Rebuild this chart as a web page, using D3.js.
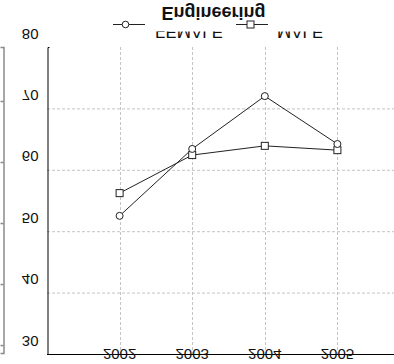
<!DOCTYPE html>
<html>
<head>
<meta charset="utf-8">
<script src="https://cdn.jsdelivr.net/npm/d3@7"></script>
<style>
  html, body { margin: 0; padding: 0; background: #fff; }
  svg { display: block; font-family: "Liberation Sans", Arial, sans-serif; }
</style>
</head>
<body>
<svg id="chart" width="394" height="364"></svg>
<script>
// Engineering enrolment share by sex, 2002–2005
const years = [2002, 2003, 2004, 2005];
const female = [52.5, 63.4, 72.0, 64.2];
const male = [56.2, 62.4, 63.9, 63.2];
const yTicks = [30, 40, 50, 60, 70, 80];
const seriesNames = ["FEMALE", "MALE"];
const titleText = "Engineering";

const svg = d3.select("#chart");
const W = 394, H = 364;

const x = d3.scaleLinear().domain([2001, 2006]).range([47, 410]);
const y = d3.scaleLinear().domain([30, 80]).range([354, 47]);

// flipped text helper: mirrors each label vertically about its anchor point
function flipped(sel) {
  return sel.attr("transform", d => `translate(${d.x},${d.y}) scale(1,-1)`);
}

// gridlines
const grid = svg.append("g").attr("stroke", "#c4c4c4").attr("stroke-dasharray", "3,2").attr("stroke-width", 1);
grid.selectAll("line.h").data(yTicks.filter(t => t > 30 && t < 80)).join("line")
  .attr("x1", x(2001)).attr("x2", W).attr("y1", d => y(d) + 0.5).attr("y2", d => y(d) + 0.5);
grid.selectAll("line.v").data(years).join("line")
  .attr("y1", y(80)).attr("y2", y(30)).attr("x1", d => Math.round(x(d)) + 0.5).attr("x2", d => Math.round(x(d)) + 0.5);

// secondary grey axis at the far left
const side = d3.scaleLinear().domain([-0.13, 4.885]).range([353, 47]);
const sideAxis = svg.append("g").attr("transform", "translate(3.5,0)")
  .call(d3.axisLeft(side).tickValues([0, 1, 2, 3, 4]).tickSize(3).tickSizeOuter(3).tickFormat(""));
sideAxis.selectAll("path, line").attr("stroke", "#8a8a8a").attr("stroke-width", 1.5);

// main axes
const xAxis = svg.append("g").attr("transform", `translate(0,${y(30) + 0.5})`)
  .call(d3.axisBottom(x).tickValues([]).tickSizeOuter(0));
xAxis.select(".domain").attr("stroke", "#000").attr("d", `M${x(2001)},0H${W}`);
const yAxis = svg.append("g").attr("transform", `translate(${x(2001) + 0.5},0)`)
  .call(d3.axisRight(y).tickValues([]).tickSizeOuter(2));
yAxis.select(".domain").attr("stroke", "#000");

// y tick labels
svg.append("g").selectAll("text").data(yTicks.map(v => ({ v, x: 38.5, y: y(v) - 13 }))).join("text")
  .call(flipped)
  .attr("text-anchor", "end").attr("dominant-baseline", "central")
  .attr("font-size", 15).attr("fill", "#111")
  .text(d => d.v);

// x tick labels
svg.append("g").selectAll("text").data(years.map(v => ({ v, x: x(v), y: y(30) }))).join("text")
  .call(flipped)
  .attr("text-anchor", "middle").attr("dominant-baseline", "central")
  .attr("font-size", 15).attr("fill", "#111")
  .text(d => d.v);

// series lines
const line = d3.line().x(d => x(d[0])).y(d => y(d[1]));
const fPts = years.map((yr, i) => [yr, female[i]]);
const mPts = years.map((yr, i) => [yr, male[i]]);
svg.append("path").datum(mPts).attr("d", line).attr("fill", "none").attr("stroke", "#222").attr("stroke-width", 1);
svg.append("path").datum(fPts).attr("d", line).attr("fill", "none").attr("stroke", "#222").attr("stroke-width", 1);

// markers
svg.append("g").selectAll("rect").data(mPts).join("rect")
  .attr("x", d => x(d[0]) - 3.5).attr("y", d => y(d[1]) - 3.5).attr("width", 7).attr("height", 7)
  .attr("fill", "#fff").attr("stroke", "#222");
svg.append("g").selectAll("circle").data(fPts).join("circle")
  .attr("cx", d => x(d[0])).attr("cy", d => y(d[1])).attr("r", 3.5)
  .attr("fill", "#fff").attr("stroke", "#222");

// legend
const leg = svg.append("g");
const legY = 24.5;
leg.append("line").attr("x1", 113).attr("x2", 145).attr("y1", legY).attr("y2", legY).attr("stroke", "#222");
leg.append("circle").attr("cx", 125.5).attr("cy", legY).attr("r", 3.3).attr("fill", "#fff").attr("stroke", "#222");
leg.append("line").attr("x1", 236).attr("x2", 268).attr("y1", legY).attr("y2", legY).attr("stroke", "#222");
leg.append("rect").attr("x", 247).attr("y", legY - 3.5).attr("width", 7).attr("height", 7).attr("fill", "#fff").attr("stroke", "#222");

svg.append("clipPath").attr("id", "legclip").append("rect").attr("x", 0).attr("y", 31.5).attr("width", W).attr("height", 7);
svg.append("g").attr("clip-path", "url(#legclip)")
  .selectAll("text").data([{ t: seriesNames[0], x: 155, y: 26 }, { t: seriesNames[1], x: 277, y: 26 }]).join("text")
  .call(flipped)
  .attr("font-size", 17).attr("fill", "#111")
  .text(d => d.t);

// title
svg.append("text").datum({ x: 213.5, y: 7 }).call(flipped)
  .attr("text-anchor", "middle").attr("font-size", 18).attr("font-weight", "bold").attr("fill", "#111")
  .text(titleText);
</script>
</body>
</html>
